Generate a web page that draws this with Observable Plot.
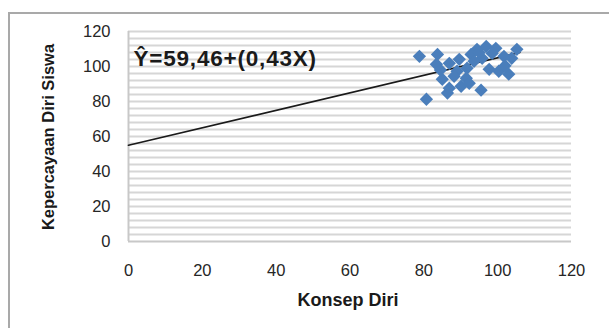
<!DOCTYPE html>
<html>
<head>
<meta charset="utf-8">
<script src="https://cdn.jsdelivr.net/npm/d3@7"></script>
<script src="https://cdn.jsdelivr.net/npm/@observablehq/plot@0.6"></script>
<style>
  html, body { margin: 0; padding: 0; background: #fff; overflow: hidden; }
  #frame { position: absolute; left: 8px; top: 12px; width: 640px; height: 340px; border: 2px solid #a9a9a9; box-sizing: border-box; }
  #chart { position: absolute; left: 0; top: 0; }
  #chart svg g[aria-label="text"] text { letter-spacing: 0.8px; }
</style>
</head>
<body>
<div id="frame"></div>
<div id="chart"></div>
<script>
// Konsep Diri (x) vs Kepercayaan Diri Siswa (y)
const konsepDiri = [78.8, 83.7, 80.7, 86.4, 95.5, 85.0, 91.5, 90.1, 83.4, 86.9, 89.6, 94.4, 96.9, 99.5, 105.2, 103.8, 97.7, 100.3, 103.0, 92.8, 95.8, 89.0, 91.7, 93.6, 101.7, 98.5, 88.2, 86.9, 92.3, 95.0, 84.5, 102.0];
const kepercayaan = [105.8, 106.9, 81.3, 84.8, 86.5, 92.7, 93.3, 88.7, 101.3, 101.8, 104.1, 109.8, 111.5, 110.4, 109.8, 104.7, 98.4, 97.3, 95.6, 106.9, 104.7, 97.3, 99.0, 103.0, 105.8, 107.5, 94.4, 87.6, 90.4, 108.0, 98.0, 100.5];
// Trendline as drawn (start/end)
const trendX = [0, 106];
const trendY = [55, 108];
const xTicks = [0, 20, 40, 60, 80, 100, 120];
const yTicks = [0, 20, 40, 60, 80, 100, 120];
const gridY = d3.range(4, 121, 4);
const equation = "Ŷ=59,46+(0,43X)";
const xTitle = "Konsep Diri";
const yTitle = "Kepercayaan Diri Siswa";

const points = konsepDiri.map((x, i) => ({x, y: kepercayaan[i]}));
const trend = trendX.map((x, i) => ({x, y: trendY[i]}));

const chart = Plot.plot({
  width: 609,
  height: 328,
  marginLeft: 128,
  marginRight: 38,
  marginTop: 31,
  marginBottom: 87,
  style: {fontFamily: "'Liberation Sans', Arial, sans-serif", fontSize: "16.5px", color: "#262626", background: "transparent"},
  x: {domain: [0, 120], ticks: xTicks, tickSize: 0, tickPadding: 23, label: null},
  y: {domain: [0, 120], ticks: yTicks, tickSize: 0, tickPadding: 18, label: null},
  marks: [
    Plot.ruleY(gridY, {stroke: "#d6d6d6", strokeWidth: 2}),
    Plot.ruleY([0], {stroke: "#c8c8c8", strokeWidth: 2}),
    Plot.ruleX([0], {stroke: "#c8c8c8", strokeWidth: 2}),
    Plot.line(trend, {x: "x", y: "y", stroke: "#1a1a1a", strokeWidth: 1.7}),
    Plot.dot(points, {x: "x", y: "y", symbol: "diamond2", r: 6, fill: "#4a7ebb", stroke: "none"}),
    Plot.text([equation], {frameAnchor: "top-left", dx: 5, dy: 19, text: d => d, textAnchor: "start", fontSize: 22.5, fontWeight: "bold", fill: "#1a1a1a"})
  ]
});
document.getElementById("chart").appendChild(chart);

const svg = d3.select(chart);
svg.append("text")
  .attr("x", 348).attr("y", 306)
  .attr("text-anchor", "middle")
  .attr("font-family", "'Liberation Sans', Arial, sans-serif")
  .attr("font-weight", "bold").attr("font-size", 18)
  .attr("fill", "#1a1a1a")
  .text(xTitle);
svg.append("text")
  .attr("transform", "translate(54,137) rotate(-90)")
  .attr("text-anchor", "middle")
  .attr("font-family", "'Liberation Sans', Arial, sans-serif")
  .attr("font-weight", "bold").attr("font-size", 16.5)
  .attr("fill", "#1a1a1a")
  .text(yTitle);
</script>
</body>
</html>
